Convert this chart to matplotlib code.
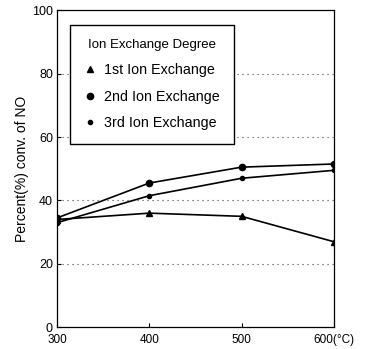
import matplotlib
matplotlib.use("Agg")
import matplotlib.pyplot as plt
from matplotlib.lines import Line2D

plt.rcParams['font.family'] = ['Liberation Sans', 'DejaVu Sans']

temps = [300, 400, 500, 600]
first = [34, 36, 35, 27]
second = [34.5, 45.5, 50.5, 51.5]
third = [33, 41.5, 47, 49.5]
xtick_labels = ['300', '400', '500', '600(°C)']
ytick_vals = [0, 20, 40, 60, 80, 100]
series_names = ['1st Ion Exchange', '2nd Ion Exchange', '3rd Ion Exchange']

fig = plt.figure(figsize=(3.73, 3.49), dpi=100)
ax = fig.add_axes([0.153, 0.062, 0.742, 0.909])

for y in [20, 40, 60, 80]:
    ax.axhline(y, color='#444444', linestyle=(0, (1, 3.5)), linewidth=0.8, zorder=1)

ax.plot(temps, first, color='black', lw=1.2, marker='^', ms=4, zorder=3)
ax.plot(temps, second, color='black', lw=1.2, marker='o', ms=4.5, zorder=3)
ax.plot(temps, third, color='black', lw=1.2, marker='o', ms=3, zorder=3)

ax.set_xlim(300, 600)
ax.set_ylim(0, 100)
ax.set_xticks(temps)
ax.set_xticklabels(xtick_labels, fontsize=8.5)
ax.set_yticks(ytick_vals)
ax.set_yticklabels([str(v) for v in ytick_vals], fontsize=9)
ax.tick_params(direction='in', length=3, width=0.8)
ax.tick_params(axis='x', pad=5)
ax.tick_params(axis='y', pad=3)
ax.set_ylabel('Percent(%) conv. of NO', fontsize=10, labelpad=2)
for s in ax.spines.values():
    s.set_linewidth(0.9)

handles = [
    Line2D([], [], color='black', marker='^', ms=4, ls='none'),
    Line2D([], [], color='black', marker='o', ms=4.5, ls='none'),
    Line2D([], [], color='black', marker='o', ms=3, ls='none'),
]
leg = ax.legend(handles, series_names, title='Ion Exchange Degree',
                loc='upper left', bbox_to_anchor=(0.047, 0.953), borderaxespad=0,
                fontsize=10.3, title_fontsize=9.5, frameon=True, fancybox=False,
                edgecolor='black', handlelength=0.8, handletextpad=0.6,
                labelspacing=0.85, borderpad=1.0, framealpha=1)
leg.get_frame().set_linewidth(1.0)

fig.savefig('out.png', dpi=100)
